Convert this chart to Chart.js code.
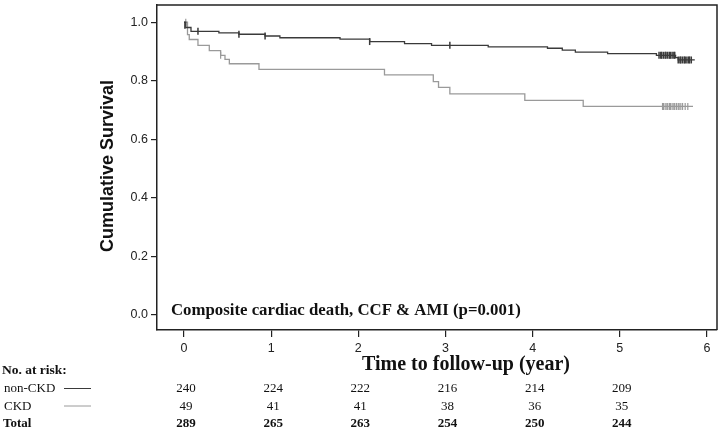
<!doctype html>
<html lang="en">
  <head>
    <meta charset="utf-8">
    <title>Composite cardiac death, CCF & AMI</title>
    <style>
      * {
        margin: 0;
        padding: 0;
      }
      body {
        background: white;
      }
      canvas {
        display: block;
      }
    </style>
  </head>
  <body>
    <canvas id="kmChart" width="722" height="429"></canvas>
    <script src="https://cdn.jsdelivr.net/npm/chart.js/dist/chart.umd.min.js"></script>
    <script>
    // setup - values
    const timeTicks = [0, 1, 2, 3, 4, 5, 6];
    const survTicks = [0, 0.2, 0.4, 0.6, 0.8, 1.0];

    const nonCkdTime = [0, 0.02, 0.08, 0.40, 0.63, 0.93, 1.10, 1.79, 2.13, 2.53, 2.84, 3.49, 4.17, 4.34, 4.49, 4.86, 5.42, 5.64, 5.67, 5.86];
    const nonCkdSurv = [1.0, 0.982, 0.969, 0.964, 0.959, 0.953, 0.947, 0.942, 0.934, 0.927, 0.921, 0.916, 0.911, 0.905, 0.898, 0.893, 0.887, 0.879, 0.871, 0.871];

    const ckdTime = [0, 0.04, 0.06, 0.16, 0.29, 0.42, 0.47, 0.52, 0.86, 2.30, 2.86, 2.92, 3.05, 3.91, 4.58, 5.84];
    const ckdSurv = [1.0, 0.958, 0.941, 0.921, 0.903, 0.887, 0.873, 0.858, 0.839, 0.820, 0.797, 0.777, 0.755, 0.733, 0.712, 0.712];

    // censored cases (tick marks)
    const nonCkdCensorTime = [0.01, 0.16, 0.63, 0.93, 2.13, 3.05,
      5.45, 5.47, 5.48, 5.50, 5.52, 5.53, 5.55, 5.57, 5.58, 5.60, 5.62, 5.63,
      5.67, 5.69, 5.70, 5.72, 5.74, 5.75, 5.77, 5.79, 5.80, 5.82];
    const nonCkdCensorSurv = [0.99, 0.969, 0.959, 0.953, 0.934, 0.921,
      0.887, 0.887, 0.887, 0.887, 0.887, 0.887, 0.887, 0.887, 0.887, 0.887, 0.887, 0.887,
      0.871, 0.871, 0.871, 0.871, 0.871, 0.871, 0.871, 0.871, 0.871, 0.871];
    const ckdCensorTime = [0.02, 0.42,
      5.49, 5.50, 5.52, 5.54, 5.55, 5.57, 5.58, 5.60, 5.62, 5.63, 5.65, 5.67, 5.68, 5.70,
      5.72, 5.75, 5.78];
    const ckdCensorSurv = [1.0, 0.887,
      0.712, 0.712, 0.712, 0.712, 0.712, 0.712, 0.712, 0.712, 0.712, 0.712, 0.712, 0.712, 0.712, 0.712,
      0.712, 0.712, 0.712];

    // number at risk table
    const riskTimes = [0, 1, 2, 3, 4, 5];
    const riskLabels = ['non-CKD', 'CKD', 'Total'];
    const riskNonCkd = [240, 224, 222, 216, 214, 209];
    const riskCkd = [49, 41, 41, 38, 36, 35];
    const riskTotal = [289, 265, 263, 254, 250, 244];

    const darkLine = '#3a3a3a';
    const greyLine = '#9a9a9a';

    const toPoints = (xs, ys) => xs.map((x, i) => ({ x: x, y: ys[i] }));

    const data = {
      datasets: [
        {
          label: 'non-CKD',
          data: toPoints(nonCkdTime, nonCkdSurv),
          showLine: true,
          stepped: 'before',
          borderColor: darkLine,
          borderWidth: 1.3,
          pointRadius: 0,
          fill: false
        },
        {
          label: 'CKD',
          data: toPoints(ckdTime, ckdSurv),
          showLine: true,
          stepped: 'before',
          borderColor: greyLine,
          borderWidth: 1.3,
          pointRadius: 0,
          fill: false
        },
        {
          label: 'non-CKD censored',
          data: toPoints(nonCkdCensorTime, nonCkdCensorSurv),
          showLine: false,
          pointStyle: 'line',
          rotation: 90,
          pointRadius: 3.5,
          pointHoverRadius: 3.5,
          borderColor: darkLine,
          borderWidth: 1.5
        },
        {
          label: 'CKD censored',
          data: toPoints(ckdCensorTime, ckdCensorSurv),
          showLine: false,
          pointStyle: 'line',
          rotation: 90,
          pointRadius: 3.5,
          pointHoverRadius: 3.5,
          borderColor: greyLine,
          borderWidth: 1.2
        }
      ]
    };

    const serif = "'Liberation Serif', 'Times New Roman', serif";

    // frame, titles and the at-risk table
    const extras = {
      id: 'extras',
      afterDraw(chart) {
        const { ctx, chartArea: { left, right, top, bottom }, scales: { x } } = chart;
        ctx.save();
        ctx.strokeStyle = '#222';
        ctx.lineWidth = 1.5;
        ctx.beginPath();
        ctx.moveTo(left, top);
        ctx.lineTo(right, top);
        ctx.lineTo(right, bottom);
        ctx.stroke();

        // y title
        ctx.fillStyle = '#111';
        ctx.font = "bold 18px 'Liberation Sans', Arial, sans-serif";
        ctx.textAlign = 'center';
        ctx.textBaseline = 'middle';
        ctx.translate(108, 166);
        ctx.rotate(-Math.PI / 2);
        ctx.fillText('Cumulative Survival', 0, 0);
        ctx.setTransform(1, 0, 0, 1, 0, 0);

        // annotation inside plot
        ctx.font = 'bold 16.8px ' + serif;
        ctx.textAlign = 'left';
        ctx.textBaseline = 'alphabetic';
        ctx.fillText('Composite cardiac death, CCF & AMI (p=0.001)', 171, 315);

        // x title
        ctx.font = 'bold 20px ' + serif;
        ctx.textAlign = 'center';
        ctx.fillText('Time to follow-up (year)', 466, 370);

        // at-risk table
        ctx.textAlign = 'left';
        ctx.font = 'bold 13.5px ' + serif;
        ctx.fillText('No. at risk:', 2, 374);
        ctx.font = '13px ' + serif;
        ctx.fillText(riskLabels[0], 4, 392);
        ctx.fillText(riskLabels[1], 4, 410);
        ctx.font = 'bold 13px ' + serif;
        ctx.fillText(riskLabels[2], 3, 427);

        ctx.lineWidth = 1;
        ctx.strokeStyle = darkLine;
        ctx.beginPath();
        ctx.moveTo(64, 388.5);
        ctx.lineTo(91, 388.5);
        ctx.stroke();
        ctx.strokeStyle = greyLine;
        ctx.beginPath();
        ctx.moveTo(64, 406);
        ctx.lineTo(91, 406);
        ctx.stroke();

        ctx.textAlign = 'center';
        riskTimes.forEach((t, i) => {
          const px = x.getPixelForValue(t);
          ctx.font = '13px ' + serif;
          ctx.fillText(String(riskNonCkd[i]), px + 2, 392);
          ctx.fillText(String(riskCkd[i]), px + 2, 410);
          ctx.font = 'bold 13px ' + serif;
          ctx.fillText(String(riskTotal[i]), px + 2, 427);
        });
        ctx.restore();
      }
    };

    // config
    const config = {
      type: 'scatter',
      data,
      options: {
        responsive: false,
        animation: false,
        devicePixelRatio: 1,
        layout: {
          padding: { top: 2, right: 5, left: 0, bottom: 0 }
        },
        scales: {
          x: {
            type: 'linear',
            min: -0.31,
            max: 6.115,
            afterFit: (scale) => {
              scale.height = 99;
              scale.paddingLeft = 0;
              scale.paddingRight = 0;
            },
            afterBuildTicks: (scale) => { scale.ticks = timeTicks.map(v => ({ value: v })); },
            grid: { drawOnChartArea: false, drawTicks: true, tickLength: 7, color: '#222', lineWidth: 1.2 },
            border: { display: true, color: '#222', width: 1.5 },
            ticks: {
              padding: 4,
              color: '#222',
              font: { family: "'Liberation Sans', Arial, sans-serif", size: 12.5 },
              callback: (v) => String(v)
            }
          },
          y: {
            type: 'linear',
            min: -0.0525,
            max: 1.059,
            afterFit: (scale) => {
              scale.width = 157;
              scale.paddingTop = 0;
              scale.paddingBottom = 0;
            },
            afterBuildTicks: (scale) => { scale.ticks = survTicks.map(v => ({ value: v })); },
            grid: { drawOnChartArea: false, drawTicks: true, tickLength: 6, color: '#222', lineWidth: 1.2 },
            border: { display: true, color: '#222', width: 1.5 },
            ticks: {
              padding: 3,
              color: '#222',
              font: { family: "'Liberation Sans', Arial, sans-serif", size: 12.5 },
              callback: (v) => Number(v).toFixed(1)
            }
          }
        },
        plugins: {
          legend: { display: false },
          tooltip: { enabled: false }
        }
      },
      plugins: [extras]
    };

    // render init block
    const kmChart = new Chart(
      document.getElementById('kmChart'),
      config
    );
    </script>
  </body>
</html>
